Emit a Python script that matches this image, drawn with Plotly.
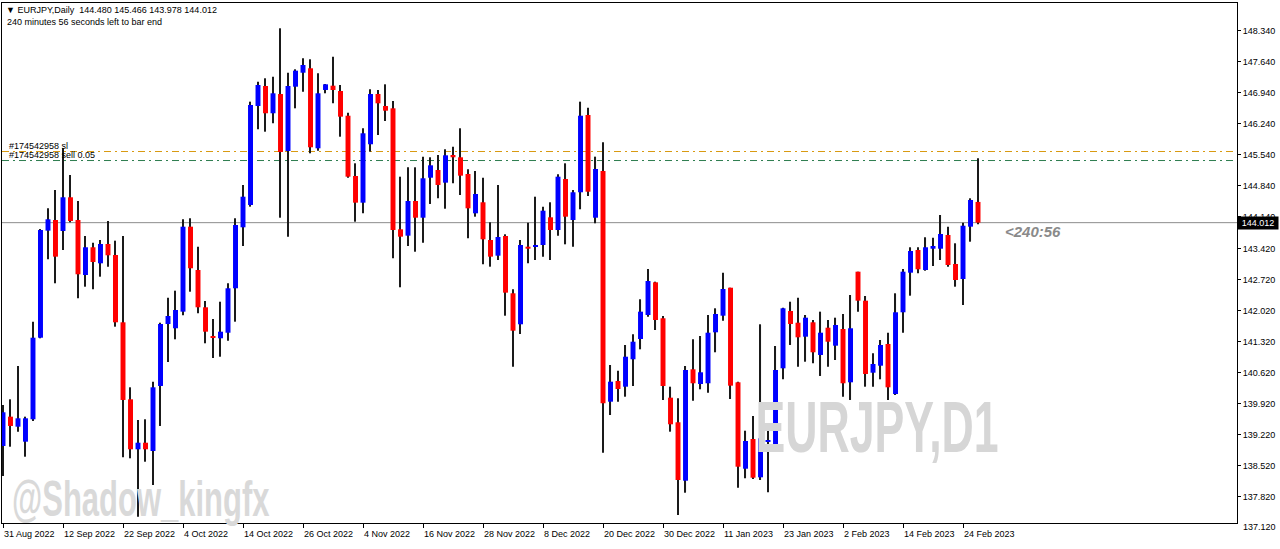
import plotly.graph_objects as go
import pandas as pd

# ---------------- data ----------------
# broker feed: weekdays plus one extra Sunday bar (30 Oct 2022) seen in the bar count
dates = sorted([d.strftime("%Y-%m-%d") for d in pd.bdate_range("2022-08-31", "2023-02-28")]
               + ["2022-10-30"])

opens = [138.969, 139.631, 139.405, 139.066, 139.572, 141.414, 143.831, 144.072, 143.824, 144.585,
         144.072, 142.830, 143.456, 143.094, 143.530, 143.282, 141.762, 140.023, 138.894, 139.043,
         138.856, 140.324, 141.724, 141.627, 142.002, 143.921, 142.943, 142.101, 141.437, 141.401,
         141.527, 142.530, 143.907, 144.411, 146.646, 147.098, 146.482, 146.917, 145.630, 147.082,
         147.398, 147.498, 145.691, 147.008, 147.105, 146.985, 146.427, 145.066, 144.463, 145.782,
         146.917, 146.646, 146.594, 143.862, 143.718, 144.501, 144.124, 145.027, 145.201, 144.915,
         145.540, 145.488, 145.111, 144.223, 144.472, 143.621, 143.266, 143.711, 142.417, 141.717,
         143.469, 143.463, 143.508, 144.133, 143.846, 144.998, 144.072, 144.698, 146.443, 144.124,
         145.179, 139.969, 140.437, 140.308, 140.927, 141.385, 141.927, 142.665, 141.853, 140.060,
         139.504, 138.185, 140.701, 140.369, 140.385, 141.536, 141.911, 142.543, 140.407, 138.456,
         139.127, 138.262, 139.066, 138.969, 140.723, 142.017, 141.753, 141.437, 141.762, 141.024,
         141.640, 141.234, 141.611, 140.407, 142.905, 142.250, 140.624, 140.782, 141.272, 140.143,
         141.988, 142.882, 143.395, 142.943, 143.424, 143.424, 143.733, 143.079, 142.740, 143.921,
         144.480]
highs = [139.895, 140.023, 140.775, 139.631, 141.776, 143.869, 144.336, 144.750, 145.698, 145.088,
         144.501, 143.711, 143.560, 143.621, 144.050, 143.605, 143.711, 140.294, 139.556, 139.572,
         140.421, 141.753, 142.318, 142.476, 144.088, 144.111, 143.469, 142.243, 141.837, 142.227,
         142.643, 144.111, 144.863, 146.744, 147.195, 147.272, 147.308, 148.401, 147.398, 147.475,
         147.724, 147.701, 147.385, 147.143, 147.760, 147.121, 146.495, 145.352, 146.143, 147.024,
         147.008, 147.136, 146.759, 145.050, 145.262, 145.262, 145.502, 145.488, 145.540, 145.669,
         145.727, 146.143, 145.217, 145.179, 145.027, 144.020, 144.863, 143.749, 142.507, 143.621,
         144.011, 144.598, 144.373, 144.472, 145.104, 145.352, 144.750, 146.744, 146.608, 145.502,
         145.827, 140.798, 140.669, 141.250, 141.491, 142.282, 142.966, 142.679, 141.904, 140.308,
         140.046, 140.775, 141.378, 141.453, 141.927, 142.078, 142.882, 142.543, 140.421, 139.314,
         139.646, 141.717, 139.459, 141.227, 142.092, 142.227, 142.318, 141.927, 141.814, 142.002,
         141.814, 141.866, 141.950, 142.379, 142.905, 142.356, 141.062, 141.362, 141.527, 142.417,
         142.966, 143.456, 143.456, 143.682, 143.672, 144.185, 143.921, 143.546, 144.011, 144.562,
         145.466]
lows = [138.291, 138.953, 139.292, 138.727, 139.533, 141.401, 143.185, 142.643, 143.395, 144.020,
        142.304, 142.566, 142.507, 142.792, 143.018, 141.663, 138.714, 138.691, 137.372, 138.614,
        138.088, 139.421, 140.866, 141.378, 141.920, 142.453, 141.965, 141.288, 140.956, 140.985,
        141.347, 141.776, 143.485, 144.373, 146.120, 146.066, 146.256, 144.124, 143.695, 146.594,
        146.969, 145.578, 145.637, 146.933, 146.707, 145.953, 145.027, 144.034, 144.223, 145.614,
        145.992, 146.308, 143.207, 142.553, 143.485, 143.356, 143.560, 144.434, 144.562, 144.327,
        144.901, 144.637, 143.659, 144.147, 143.072, 143.018, 143.169, 141.911, 140.760, 141.498,
        143.094, 143.169, 143.244, 143.169, 143.718, 143.523, 143.469, 144.314, 144.614, 143.998,
        138.818, 139.669, 139.969, 140.082, 140.324, 141.152, 141.889, 141.588, 140.008, 139.292,
        137.411, 137.914, 139.992, 140.249, 140.172, 141.085, 141.798, 140.030, 138.027, 138.240,
        138.224, 138.201, 137.923, 138.953, 140.475, 141.250, 140.760, 140.872, 140.836, 140.550,
        140.760, 140.911, 140.082, 140.008, 142.002, 140.308, 140.308, 140.475, 140.008, 140.121,
        141.527, 142.363, 142.869, 142.927, 143.034, 143.169, 143.018, 142.566, 142.153, 143.582,
        143.978]
closes = [139.730, 139.421, 139.594, 139.594, 141.414, 143.846, 144.088, 143.244, 144.585, 144.050,
          142.846, 143.456, 143.124, 143.530, 143.275, 141.762, 140.008, 138.894, 139.043, 138.894,
          140.294, 141.724, 141.904, 142.040, 143.921, 142.982, 142.101, 141.550, 141.414, 141.550,
          142.530, 143.959, 144.598, 146.669, 147.121, 146.482, 146.933, 145.608, 147.098, 147.444,
          147.572, 145.714, 146.933, 147.136, 147.008, 146.405, 145.050, 144.463, 146.030, 146.917,
          146.707, 146.540, 143.846, 143.695, 144.501, 144.124, 145.014, 145.307, 144.863, 145.533,
          145.488, 145.073, 144.336, 144.659, 143.636, 143.244, 143.688, 142.431, 141.572, 143.508,
          143.424, 143.492, 144.282, 143.846, 145.050, 144.147, 144.698, 146.427, 144.711, 145.224,
          139.933, 140.421, 140.256, 140.985, 141.324, 142.002, 142.695, 141.814, 140.324, 139.459,
          138.201, 140.685, 140.385, 140.633, 141.527, 141.950, 142.514, 140.331, 138.501, 139.082,
          138.253, 139.143, 139.104, 140.685, 142.078, 141.724, 141.423, 141.866, 141.085, 141.527,
          141.324, 141.701, 140.385, 141.627, 142.250, 140.595, 140.821, 141.250, 140.294, 141.988,
          142.905, 143.372, 142.959, 143.456, 143.485, 143.756, 143.056, 142.717, 143.943, 144.524,
          144.012]

x_tick_labels = ["31 Aug 2022", "12 Sep 2022", "22 Sep 2022", "4 Oct 2022", "14 Oct 2022",
                 "26 Oct 2022", "4 Nov 2022", "16 Nov 2022", "28 Nov 2022", "8 Dec 2022",
                 "20 Dec 2022", "30 Dec 2022", "11 Jan 2023", "23 Jan 2023", "2 Feb 2023",
                 "14 Feb 2023", "24 Feb 2023"]
y_tick_values = [148.340, 147.640, 146.940, 146.240, 145.540, 144.840, 144.140, 143.420,
                 142.720, 142.020, 141.320, 140.620, 139.920, 139.220, 138.520, 137.820]
y_bottom_label = 137.120

symbol_header = "EURJPY,Daily"
last_ohlc = [144.480, 145.466, 143.978, 144.012]
timer_text = "240 minutes 56 seconds left to bar end"
countdown = "<240:56"
current_price = 144.012
sl_price = 145.619
sell_price = 145.415
sl_label = "#174542958 sl"
sell_label = "#174542958 sell 0.05"
watermark_symbol = "EURJPY,D1"
watermark_author = "@Shadow_kingfx"

# ---------------- styling ----------------
BULL = "#0000FF"
BEAR = "#FF0000"
WICK = "#1a1a1a"
FONT = "Liberation Sans, Arial, sans-serif"

W, H = 1280, 549
ML, MR, MT, MB = 2, 43, 3, 26
PW, PH = W - ML - MR, H - MT - MB


def pxx(x):
    return (x - ML) / PW


def pxy(y):
    return (H - MB - y) / PH


bull_x, bull_base, bull_h = [], [], []
bear_x, bear_base, bear_h = [], [], []
for d, o, c in zip(dates, opens, closes):
    lo, hi = min(o, c), max(o, c)
    h = max(hi - lo, 0.02)
    if c >= o:
        bull_x.append(d); bull_base.append(lo); bull_h.append(h)
    else:
        bear_x.append(d); bear_base.append(lo); bear_h.append(h)

fig = go.Figure()
fig.add_trace(go.Bar(x=dates, y=[h - l for h, l in zip(highs, lows)], base=lows,
                     width=0.14, marker=dict(color=WICK, line=dict(width=0)),
                     hoverinfo="skip", showlegend=False))
fig.add_trace(go.Bar(x=bull_x, y=bull_h, base=bull_base, width=0.66,
                     marker=dict(color=BULL, line=dict(width=0)), showlegend=False))
fig.add_trace(go.Bar(x=bear_x, y=bear_h, base=bear_base, width=0.66,
                     marker=dict(color=BEAR, line=dict(width=0)), showlegend=False))

shapes = [
    dict(type="line", xref="paper", x0=0, x1=1, yref="y", y0=current_price, y1=current_price,
         line=dict(color="#8c8c8c", width=1), layer="below"),
    dict(type="line", xref="paper", x0=0, x1=1, yref="y", y0=sl_price, y1=sl_price,
         line=dict(color="#D99A12", width=1.2, dash="7px,4px,2px,4px"), layer="below"),
    dict(type="line", xref="paper", x0=0, x1=1, yref="y", y0=sell_price, y1=sell_price,
         line=dict(color="#2E7D50", width=1, dash="7px,4px,2px,4px"), layer="below"),
]

annotations = [
    dict(xref="paper", yref="paper", x=pxx(4), y=pxy(10), xanchor="left", yanchor="middle",
         text="▼ " + symbol_header + "&nbsp;&nbsp;" + " ".join(f"{v:.3f}" for v in last_ohlc),
         showarrow=False, font=dict(family=FONT, size=9, color="black")),
    dict(xref="paper", yref="paper", x=pxx(5), y=pxy(22), xanchor="left", yanchor="middle",
         text=timer_text, showarrow=False, font=dict(family=FONT, size=9, color="black")),
    dict(xref="paper", yref="paper", x=pxx(7), y=pxy(146), xanchor="left", yanchor="middle",
         text=sl_label, showarrow=False, font=dict(family=FONT, size=9, color="black")),
    dict(xref="paper", yref="paper", x=pxx(7), y=pxy(155.5), xanchor="left", yanchor="middle",
         text=sell_label, showarrow=False, font=dict(family=FONT, size=9, color="black")),
    dict(xref="paper", yref="y", x=1, y=current_price, xanchor="left", yanchor="middle",
         text=f"{current_price:.3f}", showarrow=False, bgcolor="black", width=40, height=12,
         borderpad=0, font=dict(family=FONT, size=9, color="white")),
    dict(xref="paper", yref="paper", x=1, y=pxy(527), xanchor="left", yanchor="middle",
         xshift=4, text=f"{y_bottom_label:.3f}", showarrow=False,
         font=dict(family=FONT, size=9, color="black")),
    dict(xref="paper", yref="paper", x=pxx(1003), y=pxy(231), xanchor="left", yanchor="middle",
         text="<i><b>" + countdown.replace("<", "&lt;") + "</b></i>", showarrow=False,
         font=dict(family=FONT, size=15, color="#8a8a8a")),
    dict(xref="paper", yref="paper", x=pxx(877), y=pxy(427), xanchor="center", yanchor="middle",
         text="<b>" + watermark_symbol + "</b>", showarrow=False,
         font=dict(family=FONT, size=72, color="#d6d6d6")),
    dict(xref="paper", yref="paper", x=pxx(141), y=pxy(499), xanchor="center", yanchor="middle",
         text="<b>" + watermark_author + "</b>", showarrow=False,
         font=dict(family=FONT, size=50, color="#d9d9d9")),
]

fig.update_layout(
    width=W, height=H,
    margin=dict(l=ML, r=MR, t=MT, b=MB, autoexpand=False),
    paper_bgcolor="white", plot_bgcolor="white",
    barmode="overlay", showlegend=False, hovermode=False,
    shapes=shapes, annotations=annotations,
    font=dict(family=FONT, size=9, color="black"),
    xaxis=dict(type="category", range=[-0.133, 164.53], showgrid=False, zeroline=False,
               showline=True, linecolor="black", linewidth=1, mirror=True,
               ticks="outside", ticklen=4, tickcolor="black", tickwidth=1,
               tickvals=dates[::8], ticktext=x_tick_labels, tickangle=0, automargin=False,
               ticklabelposition="outside right", ticklabelstandoff=2,
               tickfont=dict(family=FONT, size=9, color="black")),
    yaxis=dict(side="right", range=[137.230, 148.972], showgrid=False, zeroline=False,
               showline=True, linecolor="black", linewidth=1, mirror=True, automargin=False,
               ticks="outside", ticklen=3, tickcolor="black", tickwidth=1,
               tickvals=y_tick_values, ticktext=[f"{v:.3f}" for v in y_tick_values],
               tickfont=dict(family=FONT, size=9, color="black")),
)

squeeze_js = """
document.body.style.margin='0';
document.querySelectorAll('text.annotation-text').forEach(function(t){
  var s = t.textContent;
  if (s === 'EURJPY,D1' || s === '@Shadow_kingfx') {
    t.style.transformBox = 'fill-box';
    t.style.transformOrigin = 'center';
    t.style.transform = 'scaleX(0.62)';
  }
});
"""

fig.write_html("out.html", post_script=squeeze_js, config={"displayModeBar": False})
